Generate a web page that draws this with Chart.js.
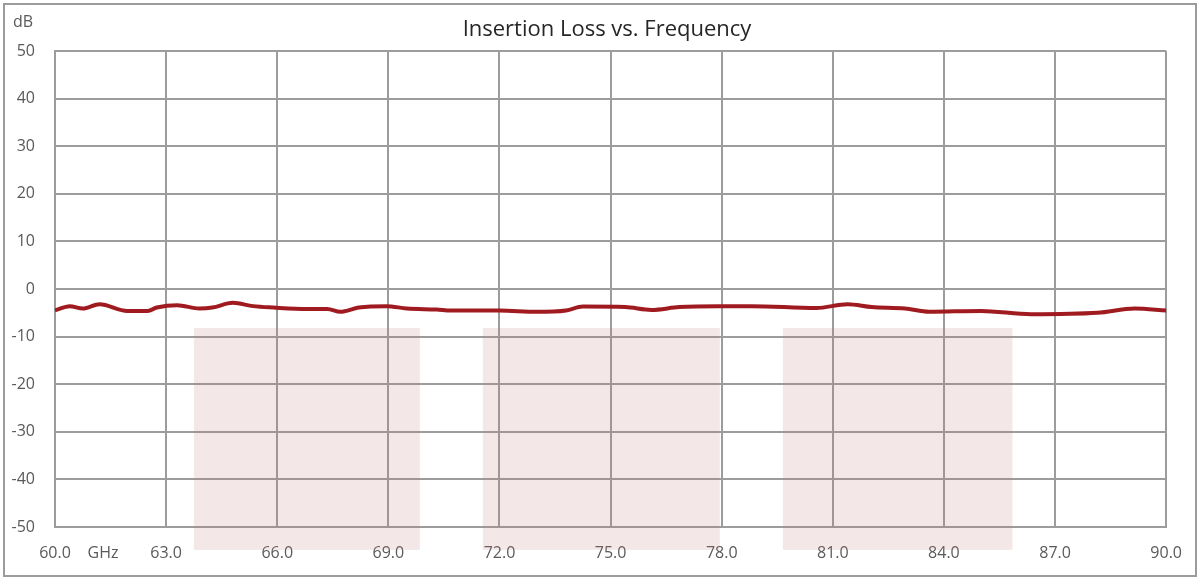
<!DOCTYPE html>
<html>
<head>
<meta charset="utf-8">
<script src="https://cdn.jsdelivr.net/npm/chart.js@4"></script>
<style>
  html, body { margin: 0; padding: 0; background: #fff; }
  #wrap { width: 1199px; height: 580px; position: relative; }
</style>
</head>
<body>
<div id="wrap"><canvas id="chart" width="1199" height="580"></canvas></div>
<script>
// Frequency (GHz) and insertion loss (dB)
const freqs = [60.0, 60.4, 60.75, 61.2, 61.95, 62.5, 62.75, 63.3, 63.9, 64.25, 64.8, 65.35, 65.9, 66.8, 67.35, 67.7, 68.2, 68.95, 69.5, 70.3,
               70.7, 72.0, 73.0, 73.8, 74.25, 75.4, 76.1, 76.85, 77.9, 78.8, 80.55, 81.4, 82.05, 82.95, 83.6, 85.0, 86.35, 88.15, 89.15, 90.0];
const loss  = [-4.5, -3.6, -4.1, -3.2, -4.6, -4.6, -3.9, -3.4, -4.1, -3.9, -2.9, -3.6, -3.9, -4.2, -4.2, -4.8, -3.9, -3.6, -4.1, -4.3,
               -4.5, -4.5, -4.8, -4.5, -3.7, -3.8, -4.4, -3.8, -3.6, -3.6, -4.0, -3.2, -3.8, -4.1, -4.8, -4.6, -5.3, -5.0, -4.1, -4.5];

// Shaded mask bands
const bandStart = [63.75, 71.55, 79.65];
const bandEnd   = [69.85, 77.95, 85.85];
const bandTop    = -8.2;
const bandBottom = -54.8;

const yTicks = [50, 40, 30, 20, 10, 0, -10, -20, -30, -40, -50];

const gridColor = '#9c9c9c';
const labelColor = '#595959';
const fontFamily = "'Open Sans', 'Noto Sans', sans-serif";

const bandsPlugin = {
    id: 'bands',
    beforeDatasetsDraw(chart) {
        const { ctx, scales: { x, y } } = chart;
        ctx.save();
        ctx.fillStyle = 'rgba(196, 120, 120, 0.18)';
        for (let i = 0; i < bandStart.length; i++) {
            const x0 = x.getPixelForValue(bandStart[i]);
            const x1 = x.getPixelForValue(bandEnd[i]);
            const y0 = y.getPixelForValue(bandTop);
            const y1 = y.getPixelForValue(bandBottom);
            ctx.fillRect(x0, y0, x1 - x0, y1 - y0);
        }
        ctx.restore();
    }
};

const textPlugin = {
    id: 'texts',
    afterDraw(chart) {
        const { ctx, scales: { x } } = chart;
        ctx.save();
        // outer frame
        ctx.strokeStyle = gridColor;
        ctx.lineWidth = 2;
        ctx.strokeRect(4, 4, 1192, 572);
        // title
        ctx.fillStyle = '#262626';
        ctx.font = '22px ' + fontFamily;
        ctx.textAlign = 'center';
        ctx.textBaseline = 'middle';
        ctx.fillText('Insertion Loss vs. Frequency', 607, 30);
        // unit labels
        ctx.fillStyle = labelColor;
        ctx.font = '16px ' + fontFamily;
        ctx.textAlign = 'left';
        ctx.fillText('dB', 13, 22);
        ctx.textAlign = 'center';
        ctx.fillText('GHz', x.getPixelForValue(60) + 48, 553);
        ctx.restore();
    }
};

new Chart(document.getElementById('chart'), {
    type: 'line',
    data: {
        datasets: [{
            data: freqs.map((f, i) => ({ x: f, y: loss[i] })),
            borderColor: '#a01b20',
            borderWidth: 4,
            pointRadius: 0,
            tension: 0.4,
            cubicInterpolationMode: 'monotone'
        }]
    },
    options: {
        responsive: false,
        animation: false,
        layout: { padding: { top: 51, left: 0, right: 31, bottom: 0 } },
        plugins: {
            legend: { display: false },
            tooltip: { enabled: false }
        },
        scales: {
            x: {
                type: 'linear',
                min: 60,
                max: 90,
                afterFit: (s) => { s.height = 53; },
                afterBuildTicks: (s) => { s.ticks = [60, 63, 66, 69, 72, 75, 78, 81, 84, 87, 90].map(v => ({ value: v })); },
                grid: { color: gridColor, lineWidth: 2, drawTicks: false },
                border: { color: gridColor, width: 2 },
                ticks: {
                    color: labelColor,
                    font: { family: fontFamily, size: 16 },
                    padding: 17,
                    maxRotation: 0,
                    autoSkip: false,
                    callback: (v) => v.toFixed(1)
                }
            },
            y: {
                min: -50,
                max: 50,
                afterFit: (s) => { s.width = 55; },
                afterBuildTicks: (s) => { s.ticks = yTicks.map(v => ({ value: v })); },
                grid: { color: gridColor, lineWidth: 2, drawTicks: false },
                border: { color: gridColor, width: 2 },
                ticks: {
                    color: labelColor,
                    font: { family: fontFamily, size: 16 },
                    padding: 20,
                    autoSkip: false
                }
            }
        }
    },
    plugins: [bandsPlugin, textPlugin]
});
</script>
</body>
</html>
